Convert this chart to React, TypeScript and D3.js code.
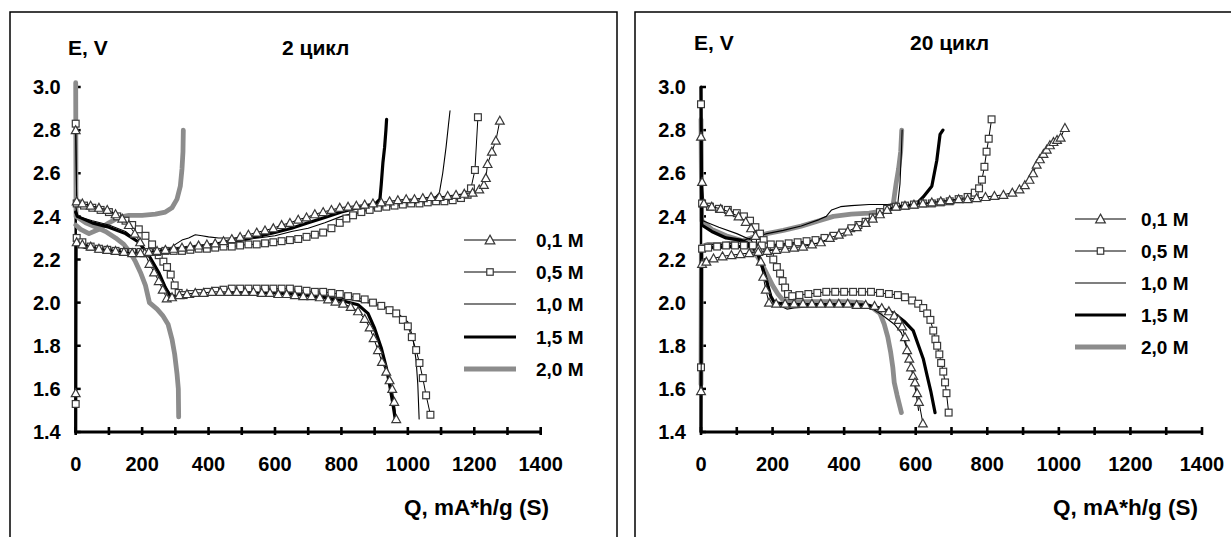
import React from 'react';
import * as d3 from 'd3';

type P = [number, number];

// ---------------- DATA: 2 cycle (left) ----------------
const C2_01_DIS: P[] = [[0,2.80],[3,2.47],[20,2.46],[45,2.45],[70,2.44],[95,2.43],[120,2.41],[140,2.39],[160,2.36],[178,2.32],[194,2.28],[208,2.23],[222,2.18],[236,2.14],[250,2.10],[262,2.06],[274,2.02],[290,2.025],[312,2.035],[335,2.04],[360,2.045],[385,2.045],[410,2.05],[435,2.05],[460,2.05],[485,2.05],[510,2.05],[535,2.05],[560,2.045],[585,2.045],[610,2.04],[635,2.04],[660,2.035],[685,2.03],[710,2.03],[735,2.025],[760,2.015],[782,2.005],[805,1.995],[828,1.98],[850,1.96],[870,1.925],[885,1.885],[897,1.835],[910,1.78],[922,1.725],[935,1.68],[945,1.64],[953,1.60],[959,1.54],[965,1.46]];
const C2_01_CHG: P[] = [[0,1.58],[3,2.28],[20,2.27],[45,2.26],[70,2.25],[95,2.245],[120,2.24],[145,2.235],[170,2.23],[195,2.23],[220,2.235],[245,2.24],[270,2.245],[295,2.25],[320,2.255],[345,2.26],[370,2.265],[395,2.27],[420,2.275],[445,2.285],[470,2.295],[495,2.305],[520,2.315],[545,2.325],[570,2.335],[595,2.345],[620,2.36],[645,2.37],[670,2.385],[695,2.395],[720,2.41],[745,2.42],[770,2.43],[795,2.44],[820,2.445],[845,2.45],[870,2.455],[895,2.46],[920,2.465],[945,2.47],[970,2.475],[995,2.48],[1020,2.48],[1045,2.485],[1070,2.49],[1095,2.49],[1120,2.495],[1145,2.50],[1170,2.505],[1195,2.51],[1215,2.525],[1229,2.546],[1235,2.578],[1240,2.643],[1253,2.70],[1265,2.751],[1277,2.844]];
const C2_05_DIS: P[] = [[0,2.83],[3,2.46],[25,2.45],[50,2.44],[75,2.43],[100,2.42],[125,2.40],[150,2.38],[170,2.36],[190,2.34],[210,2.31],[230,2.27],[250,2.22],[264,2.19],[275,2.165],[286,2.13],[298,2.08],[310,2.045],[325,2.035],[345,2.04],[370,2.045],[395,2.05],[420,2.055],[445,2.06],[470,2.065],[495,2.065],[520,2.065],[545,2.065],[570,2.065],[595,2.065],[620,2.065],[645,2.065],[670,2.06],[695,2.055],[720,2.05],[745,2.05],[770,2.045],[795,2.04],[820,2.03],[845,2.025],[870,2.015],[895,2.00],[920,1.985],[945,1.965],[965,1.95],[985,1.92],[1000,1.89],[1012,1.84],[1025,1.78],[1035,1.72],[1045,1.65],[1055,1.57],[1068,1.48]];
const C2_05_CHG: P[] = [[0,1.53],[3,2.30],[20,2.28],[45,2.26],[70,2.25],[95,2.245],[120,2.24],[145,2.235],[170,2.235],[195,2.235],[220,2.235],[245,2.235],[270,2.24],[295,2.24],[320,2.24],[345,2.245],[370,2.25],[395,2.25],[420,2.255],[445,2.26],[470,2.26],[495,2.265],[520,2.27],[545,2.27],[570,2.275],[595,2.28],[620,2.285],[645,2.29],[670,2.295],[695,2.305],[720,2.315],[745,2.325],[770,2.345],[795,2.37],[815,2.39],[835,2.405],[860,2.42],[885,2.43],[910,2.44],[935,2.445],[960,2.45],[985,2.455],[1010,2.46],[1035,2.46],[1060,2.465],[1085,2.47],[1110,2.47],[1135,2.475],[1160,2.485],[1180,2.50],[1190,2.53],[1202,2.615],[1211,2.86]];
const C2_10_DIS: P[] = [[0,2.45],[5,2.40],[50,2.38],[100,2.36],[150,2.33],[190,2.28],[220,2.22],[250,2.14],[275,2.06],[290,2.03],[320,2.035],[400,2.05],[500,2.055],[600,2.05],[700,2.04],[800,2.02],[880,2.00],[930,1.98],[970,1.95],[1000,1.91],[1015,1.84],[1025,1.73],[1030,1.62],[1034,1.46]];
const C2_10_CHG: P[] = [[0,1.45],[1,2.27],[30,2.25],[100,2.24],[200,2.235],[280,2.245],[300,2.27],[320,2.29],[340,2.30],[360,2.315],[380,2.31],[400,2.305],[430,2.30],[500,2.30],[550,2.30],[600,2.31],[650,2.33],[700,2.345],[750,2.37],[800,2.40],[850,2.42],[900,2.44],[950,2.455],[1000,2.465],[1050,2.475],[1080,2.485],[1095,2.51],[1105,2.60],[1115,2.72],[1122,2.82],[1127,2.89]];
const C2_15_DIS: P[] = [[0,2.42],[5,2.40],[50,2.37],[100,2.35],[150,2.32],[190,2.28],[220,2.22],[250,2.14],[270,2.07],[285,2.03],[310,2.03],[400,2.045],[500,2.05],[600,2.045],[700,2.035],[800,2.01],[850,1.99],[880,1.95],[900,1.88],[920,1.79],[935,1.70],[945,1.62],[955,1.53],[962,1.46]];
const C2_15_CHG: P[] = [[0,1.40],[1,2.28],[20,2.26],[100,2.245],[200,2.24],[300,2.25],[400,2.265],[500,2.29],[600,2.325],[650,2.345],[700,2.37],[750,2.395],[800,2.42],[850,2.44],[900,2.455],[916,2.48],[920,2.55],[925,2.65],[930,2.72],[934,2.80],[936,2.85]];
const C2_20_DIS: P[] = [[0,3.02],[1,2.40],[30,2.37],[60,2.35],[90,2.33],[120,2.30],[145,2.27],[165,2.23],[180,2.19],[195,2.14],[210,2.08],[222,2.00],[245,1.97],[262,1.94],[278,1.90],[290,1.83],[298,1.76],[305,1.67],[309,1.60],[310,1.47]];
const C2_20_CHG: P[] = [[0,2.36],[15,2.34],[40,2.32],[70,2.34],[100,2.37],[130,2.395],[160,2.405],[200,2.405],[240,2.41],[270,2.42],[290,2.44],[305,2.48],[315,2.54],[320,2.62],[323,2.70],[324,2.80]];

// ---------------- DATA: 20 cycle (right) ----------------
const C20_01_DIS: P[] = [[0,2.77],[3,2.56],[8,2.46],[30,2.445],[55,2.435],[80,2.42],[105,2.40],[125,2.375],[140,2.345],[152,2.31],[160,2.25],[167,2.19],[174,2.12],[181,2.06],[190,2.00],[210,1.995],[235,1.995],[260,1.995],[285,1.995],[310,1.995],[335,1.995],[360,1.995],[385,1.995],[410,1.995],[435,1.99],[460,1.99],[485,1.985],[505,1.975],[525,1.96],[540,1.94],[552,1.92],[562,1.89],[570,1.84],[576,1.78],[582,1.74],[587,1.70],[593,1.66],[598,1.63],[604,1.58],[609,1.54],[620,1.44]];
const C20_01_CHG: P[] = [[0,1.59],[3,2.18],[15,2.19],[35,2.205],[60,2.215],[85,2.22],[110,2.225],[135,2.23],[160,2.235],[185,2.24],[210,2.245],[235,2.25],[260,2.255],[285,2.26],[310,2.27],[335,2.28],[360,2.30],[385,2.315],[410,2.33],[435,2.35],[460,2.37],[480,2.39],[500,2.41],[520,2.43],[545,2.445],[570,2.45],[595,2.455],[620,2.46],[645,2.465],[670,2.47],[695,2.475],[720,2.48],[745,2.48],[770,2.485],[795,2.49],[820,2.495],[845,2.50],[870,2.51],[890,2.525],[905,2.545],[918,2.57],[928,2.60],[938,2.64],[947,2.665],[957,2.69],[966,2.71],[975,2.73],[985,2.745],[995,2.755],[1005,2.765],[1017,2.81]];
const C20_05_DIS: P[] = [[0,2.92],[3,2.46],[25,2.445],[50,2.435],[75,2.43],[100,2.415],[120,2.40],[137,2.38],[152,2.35],[165,2.32],[175,2.29],[184,2.26],[193,2.23],[202,2.20],[212,2.165],[221,2.135],[228,2.10],[235,2.07],[243,2.04],[255,2.03],[275,2.035],[300,2.04],[325,2.045],[350,2.05],[375,2.05],[400,2.05],[425,2.05],[450,2.05],[475,2.05],[500,2.045],[525,2.04],[550,2.035],[570,2.025],[590,2.01],[607,1.995],[621,1.975],[632,1.95],[641,1.92],[649,1.87],[655,1.83],[660,1.80],[666,1.76],[671,1.72],[677,1.68],[682,1.63],[686,1.58],[692,1.49]];
const C20_05_CHG: P[] = [[0,1.70],[3,2.25],[20,2.255],[45,2.26],[70,2.265],[95,2.265],[120,2.265],[145,2.265],[170,2.265],[195,2.27],[220,2.27],[245,2.275],[270,2.28],[295,2.285],[320,2.29],[345,2.30],[370,2.31],[395,2.325],[420,2.345],[440,2.36],[460,2.375],[480,2.395],[500,2.42],[520,2.435],[545,2.445],[570,2.45],[595,2.455],[620,2.46],[645,2.46],[670,2.465],[695,2.47],[720,2.48],[745,2.49],[765,2.51],[777,2.53],[785,2.57],[792,2.63],[798,2.70],[804,2.76],[812,2.85]];
const C20_10_DIS: P[] = [[0,2.45],[5,2.38],[50,2.35],[100,2.32],[140,2.29],[165,2.22],[185,2.10],[200,2.01],[220,1.985],[240,1.97],[260,1.975],[300,1.98],[400,1.985],[450,1.98],[480,1.97],[500,1.95],[520,1.925],[540,1.90],[560,1.86],[575,1.79],[590,1.68],[600,1.59],[608,1.50]];
const C20_10_CHG: P[] = [[0,1.60],[2,2.26],[20,2.27],[60,2.27],[100,2.28],[140,2.30],[184,2.32],[230,2.335],[280,2.355],[330,2.385],[350,2.40],[365,2.43],[390,2.445],[420,2.45],[470,2.455],[520,2.455],[550,2.46],[556,2.55],[560,2.70],[562,2.80]];
const C20_15_DIS: P[] = [[0,3.00],[2,2.36],[30,2.33],[70,2.30],[110,2.29],[140,2.27],[160,2.22],[180,2.12],[195,2.03],[205,2.00],[250,1.99],[300,1.99],[400,1.99],[460,1.99],[500,1.975],[540,1.95],[570,1.91],[593,1.87],[608,1.80],[621,1.74],[632,1.66],[642,1.59],[654,1.49]];
const C20_15_CHG: P[] = [[0,1.40],[1,2.25],[30,2.255],[100,2.26],[200,2.265],[300,2.28],[400,2.32],[450,2.365],[500,2.415],[550,2.445],[600,2.455],[621,2.49],[645,2.54],[659,2.66],[668,2.78],[676,2.80]];
const C20_20_DIS: P[] = [[0,2.85],[2,2.38],[30,2.34],[70,2.31],[110,2.29],[135,2.26],[155,2.22],[170,2.18],[185,2.13],[200,2.08],[215,2.04],[230,2.01],[260,2.005],[300,2.005],[400,2.005],[450,2.00],[480,1.975],[500,1.95],[512,1.90],[522,1.84],[530,1.77],[536,1.70],[540,1.63],[548,1.57],[560,1.49]];
const C20_20_CHG: P[] = [[0,1.62],[1,2.26],[20,2.27],[60,2.27],[100,2.28],[140,2.30],[184,2.32],[230,2.335],[280,2.355],[330,2.38],[370,2.40],[420,2.41],[470,2.415],[510,2.425],[537,2.455],[545,2.55],[552,2.62],[558,2.70],[561,2.80]];

const SERIES_LABELS = ['0,1 M', '0,5 M', '1,0 M', '1,5 M', '2,0 M'];
const X_TICK_LABELS = [0, 200, 400, 600, 800, 1000, 1200, 1400];
const X_MINOR_TICKS = [0, 100, 200, 300, 400, 500, 600, 700, 800, 900, 1000, 1100, 1200, 1300, 1400];
const Y_TICK_LABELS = [1.4, 1.6, 1.8, 2.0, 2.2, 2.4, 2.6, 2.8, 3.0];
const PANEL_TITLES = ['2 цикл', '20 цикл'];

const DATA_C2 = [[C2_01_DIS, C2_01_CHG], [C2_05_DIS, C2_05_CHG], [C2_10_DIS, C2_10_CHG], [C2_15_DIS, C2_15_CHG], [C2_20_DIS, C2_20_CHG]];
const DATA_C20 = [[C20_01_DIS, C20_01_CHG], [C20_05_DIS, C20_05_CHG], [C20_10_DIS, C20_10_CHG], [C20_15_DIS, C20_15_CHG], [C20_20_DIS, C20_20_CHG]];

// ---------------- styles ----------------
const FONT = '"Liberation Sans", Arial, Helvetica, sans-serif';
const MARK_STROKE = '#383838';
const STYLES = [
  { stroke: '#000', width: 1, marker: 'tri' },
  { stroke: '#000', width: 1, marker: 'sq' },
  { stroke: '#000', width: 1.1, marker: null },
  { stroke: '#000', width: 3.2, marker: null },
  { stroke: '#8c8c8c', width: 4.8, marker: null },
];
const DRAW_ORDER = [4, 3, 2, 1, 0];

function Marker({ kind, cx, cy, size = 1 }: { kind: string; cx: number; cy: number; size?: number }) {
  if (kind === 'tri') {
    const h = 4.4 * size;
    return <path d={`M${cx},${cy - h}L${cx + h},${cy + h * 0.8}L${cx - h},${cy + h * 0.8}Z`} fill="#fff" stroke={MARK_STROKE} strokeWidth={1.2} />;
  }
  const s = 3.4 * size;
  return <rect x={cx - s} y={cy - s} width={2 * s} height={2 * s} fill="#fff" stroke={MARK_STROKE} strokeWidth={1.2} />;
}

type PanelProps = {
  frame: [number, number, number];
  xRange: [number, number];
  title: string;
  ev: [number, number];
  titlePos: [number, number];
  qPos: [number, number];
  data: P[][][];
  legendX: [number, number, number];
  legendRows: number[];
};

function Panel({ frame, xRange, title, ev, titlePos, qPos, data, legendX, legendRows }: PanelProps) {
  const x = d3.scaleLinear().domain([0, 1400]).range(xRange);
  const y = d3.scaleLinear().domain([1.4, 3.0]).range([432, 87]);
  const line = d3.line<P>().x(d => x(d[0])).y(d => y(d[1]));
  const y0 = y(1.4);
  const x0 = x(0);
  return (
    <g>
      <rect x={frame[0]} y={12} width={frame[1]} height={frame[2]} fill="none" stroke="#000" strokeWidth={1.5} />
      <text x={ev[0]} y={ev[1]} fontSize={21} fontWeight="bold" fontFamily={FONT}>E, V</text>
      <text x={titlePos[0]} y={titlePos[1]} fontSize={21} fontWeight="bold" fontFamily={FONT}>{title}</text>
      <line x1={x0} x2={x0} y1={y0} y2={y(3.0)} stroke="#000" strokeWidth={2.5} />
      {Y_TICK_LABELS.map(v => (
        <g key={'y' + v}>
          <line x1={x0} x2={x0 + 5} y1={y(v)} y2={y(v)} stroke="#000" strokeWidth={2.5} />
          <text x={x0 - 15} y={y(v)} dy="0.36em" textAnchor="end" fontSize={20} fontWeight="bold" fontFamily={FONT}>{v.toFixed(1)}</text>
        </g>
      ))}
      {DRAW_ORDER.map(si => {
        const st = STYLES[si];
        return (
          <g key={'s' + si}>
            {data[si].map((seg, k) => (
              <path key={k} d={line(seg) || ''} fill="none" stroke={st.stroke} strokeWidth={st.width} strokeLinejoin="round" strokeLinecap="round" />
            ))}
            {st.marker && data[si].map((seg, k) => (
              <g key={'m' + k}>
                {seg.map((d, j) => <Marker key={j} kind={st.marker as string} cx={x(d[0])} cy={y(d[1])} />)}
              </g>
            ))}
          </g>
        );
      })}
      <line x1={x0 - 1} x2={x(1400)} y1={y0} y2={y0} stroke="#000" strokeWidth={3} />
      {X_MINOR_TICKS.map(v => (
        <line key={'xt' + v} x1={x(v)} x2={x(v)} y1={y0 - 5} y2={y0 + 3} stroke="#000" strokeWidth={2.6} />
      ))}
      {X_TICK_LABELS.map(v => (
        <text key={'xl' + v} x={x(v)} y={471} textAnchor="middle" fontSize={20} fontWeight="bold" fontFamily={FONT}>{v}</text>
      ))}
      <text x={qPos[0]} y={qPos[1]} fontSize={22.5} fontWeight="bold" fontFamily={FONT}>Q, mA*h/g (S)</text>
      {SERIES_LABELS.map((lab, i) => {
        const st = STYLES[i];
        const ly = legendRows[i];
        return (
          <g key={'lg' + i}>
            <line x1={legendX[0]} x2={legendX[1]} y1={ly} y2={ly} stroke={st.stroke} strokeWidth={st.width} />
            {st.marker && <Marker kind={st.marker} cx={(legendX[0] + legendX[1]) / 2} cy={ly} size={st.marker === 'tri' ? 1.1 : 0.95} />}
            <text x={legendX[2]} y={ly} dy="0.36em" fontSize={19} fontWeight="bold" fontFamily={FONT}>{lab}</text>
          </g>
        );
      })}
    </g>
  );
}

export default function App() {
  return (
    <svg width={1231} height={537} viewBox="0 0 1231 537" style={{ position: 'absolute', left: 0, top: 0, background: '#fff' }}>
      <rect x={0} y={0} width={1231} height={537} fill="#fff" />
      <Panel
        frame={[10, 607, 600]}
        xRange={[75.7, 540.7]}
        title={PANEL_TITLES[0]}
        ev={[68, 55]}
        titlePos={[282, 55]}
        qPos={[404, 515]}
        data={DATA_C2}
        legendX={[464, 516, 536]}
        legendRows={[240, 272, 304, 337, 369]}
      />
      <Panel
        frame={[635, 640, 600]}
        xRange={[701, 1202]}
        title={PANEL_TITLES[1]}
        ev={[694, 50]}
        titlePos={[910, 50]}
        qPos={[1053, 515]}
        data={DATA_C20}
        legendX={[1075, 1126, 1141]}
        legendRows={[219, 251, 283, 315, 347]}
      />
    </svg>
  );
}
